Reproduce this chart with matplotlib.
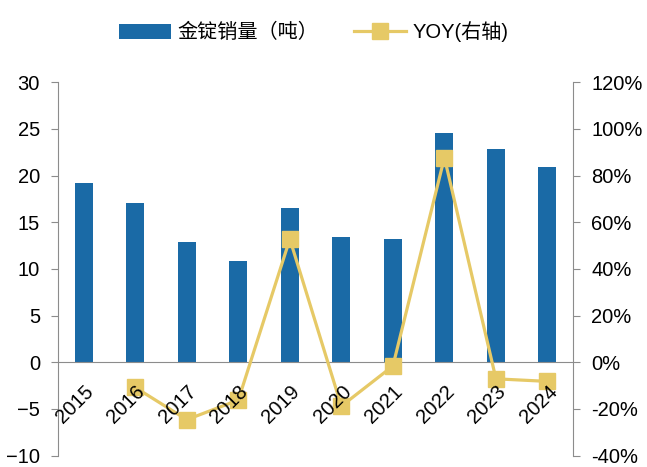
import matplotlib
matplotlib.use("Agg")
import matplotlib.pyplot as plt
import matplotlib.transforms as mtransforms
import numpy as np

plt.rcParams['font.family'] = ['Liberation Sans', 'Noto Sans CJK SC', 'DejaVu Sans']

years = ['2015', '2016', '2017', '2018', '2019', '2020', '2021', '2022', '2023', '2024']
sales = [19.2, 17.1, 12.9, 10.8, 16.5, 13.4, 13.2, 24.6, 22.8, 20.9]
yoy_years = years[1:]
yoy = [-10.8, -24.6, -16.2, 52.8, -18.8, -1.6, 87.7, -7.1, -8.2]

bar_color = '#1A6AA6'
line_color = '#E6C966'
axis_color = '#8C8C8C'

fig = plt.figure(figsize=(6.47, 4.67), dpi=100)
ax = fig.add_axes([0.0896, 0.0244, 0.7964, 0.7996])
ax2 = ax.twinx()

x = np.arange(len(years))
bars = ax.bar(x, sales, width=0.35, color=bar_color, zorder=2)

x_yoy = x[1:]
line, = ax2.plot(x_yoy, yoy, color=line_color, lw=2.3, marker='s', markersize=12, zorder=3)

ax.set_xlim(-0.5, 9.5)
ax.set_ylim(-10, 30)
ax.set_yticks(np.arange(-10, 31, 5))
ax2.set_ylim(-40, 120)
ax2.set_yticks(np.arange(-40, 121, 20))
ax2.set_yticklabels([f'{v}%' for v in range(-40, 121, 20)])

# x axis sits on zero
ax.spines['bottom'].set_position(('data', 0))
ax.set_xticks(x)
ax.set_xticklabels([])
ax.tick_params(axis='x', length=0)
ax.tick_params(axis='y', direction='out', length=5, color=axis_color, labelsize=14.5, pad=8)
ax2.tick_params(axis='y', direction='out', length=5, color=axis_color, labelsize=14.5, pad=8)

# year labels drawn over the line
lab_tr = mtransforms.offset_copy(ax.transData, fig=fig, x=0, y=-20, units='dots')
for xi, yr in zip(x, years):
    ax2.text(xi, 0, yr, transform=lab_tr, rotation=45, ha='right', va='top',
             rotation_mode='anchor', fontsize=14.5, zorder=5)

for a in (ax, ax2):
    a.spines['top'].set_visible(False)
ax.spines['right'].set_visible(False)
ax2.spines['bottom'].set_visible(False)
ax.spines['left'].set_color(axis_color)
ax.spines['bottom'].set_color(axis_color)
ax2.spines['right'].set_color(axis_color)
ax2.spines['left'].set_visible(False)

# bars behind line
ax.set_zorder(1)
ax2.set_zorder(2)
ax2.patch.set_visible(False)

fig.legend([bars, line], ['金锭销量（吨）', 'YOY(右轴)'], loc='center',
           bbox_to_anchor=(0.4845, 1 - 32 / 467), ncol=2, frameon=False,
           fontsize=14.5, handlelength=2.6, handletextpad=0.3, columnspacing=1.8,
           handleheight=0.8)

fig.savefig('out.png', dpi=100)
